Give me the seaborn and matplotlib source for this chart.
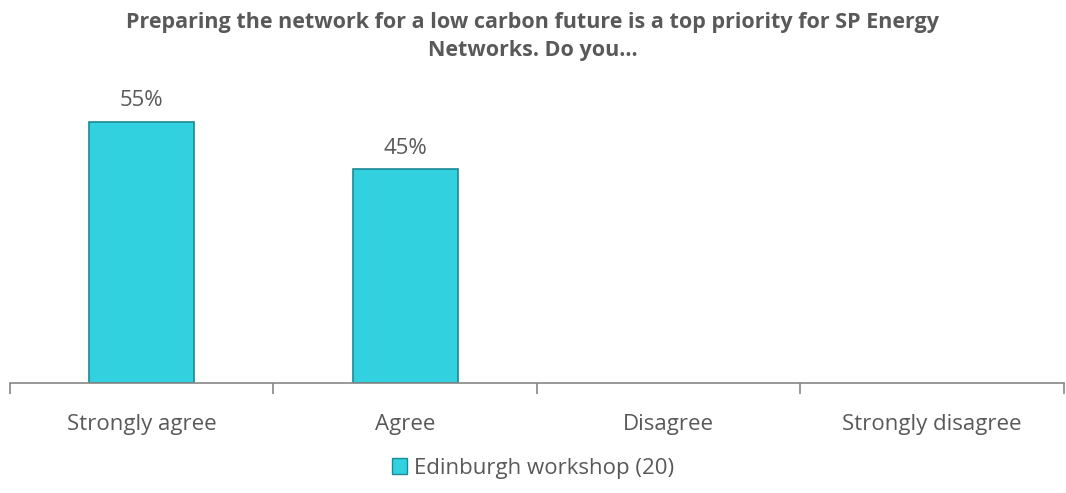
import pandas as pd
import seaborn as sns
import matplotlib.pyplot as plt
import numpy as np
from matplotlib.patches import Patch

categories = ["Strongly agree", "Agree", "Disagree", "Strongly disagree"]
values = [55, 45, 0, 0]
series_name = "Edinburgh workshop (20)"
title = "Preparing the network for a low carbon future is a top priority for SP Energy\nNetworks. Do you..."

df = pd.DataFrame({"answer": categories, "pct": values})

sns.set_style("white")
plt.rcParams["font.family"] = ["Open Sans", "DejaVu Sans"]

bar_col = "#31d1df"
edge_col = "#1b8a93"
txt_col = "#595959"

fig = plt.figure(figsize=(10.66, 4.93), dpi=100)
ax = fig.add_axes([0.0094, 0.223, 0.9886, 0.617])

sns.barplot(data=df, x="answer", y="pct", color=bar_col, width=0.40,
            edgecolor=edge_col, linewidth=1.2, saturation=1, ax=ax)

# hide empty bars (they leave a line on the axis)
for p in ax.patches:
    if p.get_height() == 0:
        p.set_visible(False)

for i, v in enumerate(values):
    if v > 0:
        ax.text(i, v + 2.2, f"{v}%", ha="center", va="bottom",
                fontsize=16, color=txt_col)

ax.set_xlim(-0.5, 3.5)
ax.set_ylim(0, 64)
ax.set_xlabel("")
ax.set_ylabel("")
ax.set_yticks([])
for s in ["top", "right", "left"]:
    ax.spines[s].set_visible(False)
ax.spines["bottom"].set_color("#868686")
ax.spines["bottom"].set_linewidth(1.2)

ax.set_xticks(range(len(categories)))
ax.set_xticklabels(categories, fontsize=16, color=txt_col)
ax.tick_params(axis="x", which="major", length=0, pad=22)
ax.set_xticks(np.arange(-0.5, 4.0, 1.0), minor=True)
ax.tick_params(axis="x", which="minor", bottom=True, length=8, width=1.2,
               color="#868686", direction="out")

fig.text(0.5, 0.926, title, ha="center", va="center", fontsize=15.5,
         fontweight="bold", color=txt_col, linespacing=1.4)

handles = [Patch(facecolor=bar_col, edgecolor=edge_col, label=series_name)]
fig.legend(handles=handles, loc="center", bbox_to_anchor=(0.5, 0.050),
           frameon=False, fontsize=16, labelcolor=txt_col,
           handlelength=0.7, handleheight=0.7, handletextpad=0.3)

fig.savefig("out.png", dpi=100)
